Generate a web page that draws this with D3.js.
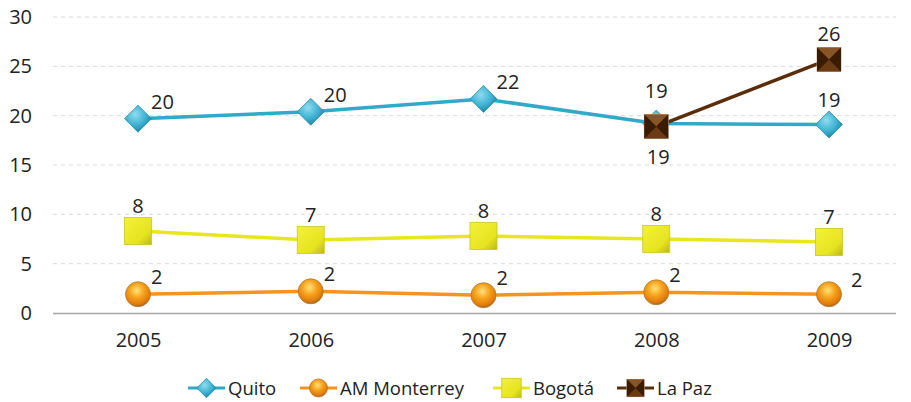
<!DOCTYPE html>
<html>
<head>
<meta charset="utf-8">
<script src="https://cdn.jsdelivr.net/npm/d3@7"></script>
<style>
  html, body { margin: 0; padding: 0; background: #fff; }
  svg text { font-family: "Open Sans", "Noto Sans", sans-serif; fill: #222; }
</style>
</head>
<body>
<svg id="chart" width="911" height="402"></svg>
<script>
// Categories and series values
const years = ["2005", "2006", "2007", "2008", "2009"];
const quito = [19.7, 20.4, 21.7, 19.2, 19.1];
const monterrey = [1.9, 2.2, 1.8, 2.1, 1.9];
const bogota = [8.3, 7.4, 7.8, 7.5, 7.2];
const laPaz = [null, null, null, 18.9, 25.7];
const yTicks = [0, 5, 10, 15, 20, 25, 30];

// Where each value label sits relative to its marker
const quitoLabelPos = ["right", "right", "right", "high", "above"];
const monterreyLabelPos = ["right", "right", "right", "right", "farRight"];
const bogotaLabelPos = ["above", "above", "above", "above", "above"];
const laPazLabelPos = [null, null, null, "below", "above"];

const svg = d3.select("#chart");
const defs = svg.append("defs");

const x = d3.scalePoint().domain(years).range([138, 829]);
const y = d3.scaleLinear().domain([0, 30]).range([313, 17]);

// Gridlines
svg.append("g")
  .selectAll("line")
  .data(yTicks.filter(t => t > 0))
  .join("line")
  .attr("x1", 53).attr("x2", 896)
  .attr("y1", d => y(d)).attr("y2", d => y(d))
  .attr("stroke", "#d9d9d9").attr("stroke-width", 1)
  .attr("stroke-dasharray", "4,4");

// Y axis labels
const yAxis = svg.append("g").attr("transform", "translate(32,0)")
  .call(d3.axisLeft(y).tickValues(yTicks).tickSize(0).tickPadding(0));
yAxis.select(".domain").remove();
yAxis.selectAll("text").attr("font-size", 20).attr("fill", "#222").attr("x", 0);

// X axis
const xAxis = svg.append("g").attr("transform", `translate(0,${y(0)})`)
  .call(d3.axisBottom(x).tickSize(0).tickPadding(20));
xAxis.select(".domain").attr("d", "M53,0.5H896").attr("stroke", "#a6a6a6").attr("stroke-width", 1.5);
xAxis.selectAll("text").attr("font-size", 20).attr("fill", "#222");

// Gradients for markers
function linGrad(id, stops, x1, y1, x2, y2) {
  const g = defs.append("linearGradient").attr("id", id)
    .attr("x1", x1).attr("y1", y1).attr("x2", x2).attr("y2", y2);
  stops.forEach(([o, c]) => g.append("stop").attr("offset", o).attr("stop-color", c));
}
function radGrad(id, stops, cx, cy, r) {
  const g = defs.append("radialGradient").attr("id", id)
    .attr("cx", cx).attr("cy", cy).attr("r", r);
  stops.forEach(([o, c]) => g.append("stop").attr("offset", o).attr("stop-color", c));
}
radGrad("gQuito", [["0%", "#8fdcf0"], ["55%", "#3fb3d2"], ["100%", "#1b7f99"]], "40%", "35%", "70%");
radGrad("gMonterrey", [["0%", "#ffe27a"], ["45%", "#f7a21c"], ["85%", "#e07a0c"], ["100%", "#9a6a2a"]], "45%", "35%", "65%");
linGrad("gBogota", [["0%", "#f4f23a"], ["70%", "#e6e320"], ["100%", "#b8b61c"]], "0%", "0%", "100%", "100%");

const series = [
  { name: "Quito", values: quito, color: "#31a9c8", shape: "diamond", fill: "url(#gQuito)", labels: quitoLabelPos },
  { name: "AM Monterrey", values: monterrey, color: "#f7941d", shape: "circle", fill: "url(#gMonterrey)", labels: monterreyLabelPos },
  { name: "Bogotá", values: bogota, color: "#e8e61c", shape: "square", fill: "url(#gBogota)", labels: bogotaLabelPos },
  { name: "La Paz", values: laPaz, color: "#5a2e0a", shape: "pyramid", fill: null, labels: laPazLabelPos }
];

function drawMarker(g, shape, fill, cx, cy, scale) {
  const s = scale || 1;
  if (shape === "diamond") {
    const r = 13.5 * s;
    g.append("path").attr("d", `M${cx},${cy - r}L${cx + r},${cy}L${cx},${cy + r}L${cx - r},${cy}Z`)
      .attr("fill", fill).attr("stroke", "#2a8fab").attr("stroke-width", 0.8);
  } else if (shape === "circle") {
    g.append("circle").attr("cx", cx).attr("cy", cy).attr("r", 12.5 * s)
      .attr("fill", fill).attr("stroke", "#b07a30").attr("stroke-width", 0.8);
  } else if (shape === "square") {
    const h = 13.5 * s;
    g.append("rect").attr("x", cx - h).attr("y", cy - h).attr("width", 2 * h).attr("height", 2 * h)
      .attr("fill", fill).attr("stroke", "#c9c62a").attr("stroke-width", 0.8);
  } else if (shape === "pyramid") {
    const h = 12 * s;
    g.append("rect").attr("x", cx - h).attr("y", cy - h).attr("width", 2 * h).attr("height", 2 * h)
      .attr("fill", "#4a2808").attr("stroke", "#c8a888").attr("stroke-width", 0.8);
    // four shaded faces meeting at the centre
    g.append("path").attr("d", `M${cx - h},${cy - h}L${cx + h},${cy - h}L${cx},${cy}Z`).attr("fill", "#8a5526");
    g.append("path").attr("d", `M${cx - h},${cy + h}L${cx + h},${cy + h}L${cx},${cy}Z`).attr("fill", "#6b3c14");
    g.append("path").attr("d", `M${cx - h},${cy - h}L${cx - h},${cy + h}L${cx},${cy}Z`).attr("fill", "#3a1c04");
    g.append("path").attr("d", `M${cx + h},${cy - h}L${cx + h},${cy + h}L${cx},${cy}Z`).attr("fill", "#3a1c04");
  }
}

const line = d3.line()
  .defined(d => d.v != null)
  .x(d => x(d.year)).y(d => y(d.v));

// Lines first, then markers, then labels
const plot = svg.append("g");
series.forEach(s => {
  const pts = years.map((yr, i) => ({ year: yr, v: s.values[i] }));
  plot.append("path").datum(pts).attr("d", line)
    .attr("fill", "none").attr("stroke", s.color).attr("stroke-width", 3.5);
});
series.forEach(s => {
  const g = plot.append("g");
  years.forEach((yr, i) => {
    if (s.values[i] == null) return;
    drawMarker(g, s.shape, s.fill, x(yr), y(s.values[i]));
  });
});
const labelOffsets = {
  right: [13, -10, "start"],
  farRight: [22, -7, "start"],
  above: [0, -18, "middle"],
  high: [0, -26, "middle"],
  below: [2, 37, "middle"]
};
series.forEach(s => {
  years.forEach((yr, i) => {
    const v = s.values[i];
    if (v == null) return;
    const [dx, dy, anchor] = labelOffsets[s.labels[i]];
    plot.append("text").attr("x", x(yr) + dx).attr("y", y(v) + dy)
      .attr("text-anchor", anchor).attr("font-size", 20).attr("fill", "#222")
      .text(d3.format(".0f")(v));
  });
});

// Legend
const legendItems = [
  { s: series[0], x: 188 },
  { s: series[1], x: 300 },
  { s: series[2], x: 493 },
  { s: series[3], x: 617 }
];
const lg = svg.append("g");
legendItems.forEach(it => {
  const ly = 388;
  lg.append("line").attr("x1", it.x).attr("x2", it.x + 37).attr("y1", ly).attr("y2", ly)
    .attr("stroke", it.s.color).attr("stroke-width", 3);
  drawMarker(lg, it.s.shape, it.s.fill, it.x + 18.5, ly, 0.72);
  lg.append("text").attr("x", it.x + 40).attr("y", ly + 7)
    .attr("font-size", 18.5).attr("fill", "#222").text(it.s.name);
});
</script>
</body>
</html>
